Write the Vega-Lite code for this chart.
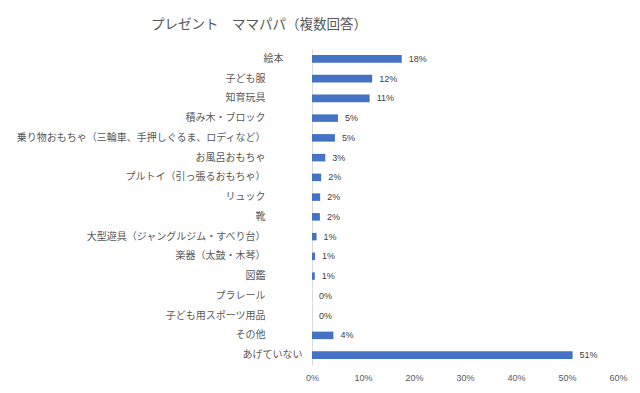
{
  "$schema": "https://vega.github.io/schema/vega-lite/v6.json",
  "autosize": "none",
  "width": 306,
  "height": 316,
  "padding": {"left": 312, "top": 49, "right": 22, "bottom": 28},
  "background": "white",
  "title": {
    "text": "プレゼント　ママパパ（複数回答）",
    "font": "Noto Sans CJK JP",
    "fontSize": 13.5,
    "fontWeight": "normal",
    "color": "#595959",
    "anchor": "middle",
    "frame": "group",
    "dx": -206,
    "offset": 18
  },
  "data": {
    "values": [
      {"item": "絵本", "share": 0.176},
      {"item": "子ども服", "share": 0.118},
      {"item": "知育玩具", "share": 0.113},
      {"item": "積み木・ブロック", "share": 0.051},
      {"item": "乗り物おもちゃ（三輪車、手押しぐるま、ロディなど）", "share": 0.045},
      {"item": "お風呂おもちゃ", "share": 0.026},
      {"item": "プルトイ（引っ張るおもちゃ）", "share": 0.018},
      {"item": "リュック", "share": 0.016},
      {"item": "靴", "share": 0.0155},
      {"item": "大型遊具（ジャングルジム・すべり台）", "share": 0.009},
      {"item": "楽器（太鼓・木琴）", "share": 0.006},
      {"item": "図鑑", "share": 0.0055},
      {"item": "プラレール", "share": 0},
      {"item": "子ども用スポーツ用品", "share": 0},
      {"item": "その他", "share": 0.042},
      {"item": "あげていない", "share": 0.511}
    ]
  },
  "encoding": {
    "y": {
      "field": "item",
      "type": "nominal",
      "sort": null,
      "scale": {"paddingInner": 0.62, "paddingOuter": 0.31},
      "axis": {
        "title": null,
        "ticks": false,
        "domainColor": "#d9d9d9",
        "labelFont": "Noto Sans CJK JP",
        "labelFontSize": 10,
        "labelColor": "#595959",
        "labelLimit": 320,
        "labelPadding": {
          "condition": [
            {"test": "datum.value === '絵本'", "value": 29},
            {"test": "datum.value === 'あげていない'", "value": 10}
          ],
          "value": 47
        }
      }
    },
    "x": {
      "field": "share",
      "type": "quantitative",
      "scale": {"domain": [0, 0.6], "nice": false},
      "axis": {
        "title": null,
        "format": ".0%",
        "values": [0, 0.1, 0.2, 0.3, 0.4, 0.5, 0.6],
        "grid": false,
        "domain": false,
        "ticks": false,
        "labelFont": "Liberation Sans",
        "labelFontSize": 9,
        "labelColor": "#595959",
        "labelPadding": 8,
        "labelFlush": false
      }
    }
  },
  "layer": [
    {"mark": {"type": "bar", "color": "#4472C4"}},
    {
      "mark": {"type": "text", "align": "left", "dx": 7, "font": "Liberation Sans", "fontSize": 9, "color": "#404040"},
      "encoding": {"text": {"field": "share", "format": ".0%"}}
    }
  ],
  "config": {"view": {"stroke": null}}
}
